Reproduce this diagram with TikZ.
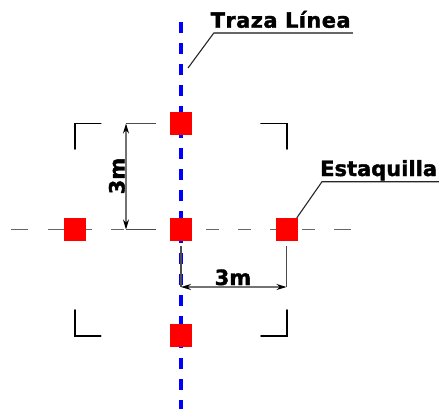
\documentclass[tikz,border=0pt]{standalone}
\usepackage{fontspec}
\setmainfont{DejaVu Sans}
\newfontfamily\heavyfont[FakeBold=1.6]{DejaVu Sans Bold}
\usetikzlibrary{arrows.meta}
\tikzset{
  stake/.style={fill=red,draw=none,minimum size=22.5pt,inner sep=0pt,outer sep=0pt},
  axisline/.style={draw=blue,line width=3.6pt,dash pattern=on 11pt off 10pt},
  centerline/.style={draw=black!60,line width=1.1pt},
  bracket/.style={draw=black,line width=1.8pt,line cap=round,line join=miter},
  extline/.style={draw=black!70,line width=1.1pt},
  dimline/.style={draw=black!55,line width=1.3pt,{Stealth[length=10pt,width=6pt,black]}-{Stealth[length=10pt,width=6pt,black]}},
  leader/.style={draw=black!85,line width=1.1pt},
  shelf/.style={draw=black!60,line width=1.7pt},
  title/.style={font=\heavyfont\fontsize{21}{21}\selectfont,inner sep=0pt,anchor=base west},
  dimtext/.style={font=\heavyfont\fontsize{21}{21}\selectfont,inner sep=0pt,anchor=base}
}
\begin{document}
\begin{tikzpicture}[x=1pt,y=-1pt]
\useasboundingbox (0,0) rectangle (439,409);
% centre line (horizontal)
\foreach \a/\b in {11/28,48/64,79/92,111/124,143/156,206/219,238/251,270/283,302/315,334/351}
  \draw[centerline] (\a,229.5) -- (\b,229.5);
% axis
\coordinate (axT) at (181,22);
\coordinate (axB) at (181,409);
\draw[axisline] (axT) -- (axB);
% corner brackets
\draw[bracket] (100.7,123.5) -- (75,123.5) -- (75,149);
\draw[bracket] (261,123.5) -- (286.7,123.5) -- (286.7,149);
\draw[bracket] (75,310) -- (75,335.7) -- (100.7,335.7);
\draw[bracket] (286.7,310) -- (286.7,335.7) -- (261,335.7);
% dimension 3m vertical
\coordinate (vT) at (126,123.5);
\coordinate (vB) at (126,229.5);
\coordinate (vTe) at (156,123.5);
\coordinate (vBe) at (156,229.5);
\draw[extline] (vT) -- (vTe);
\draw[extline] (vB) -- (vBe);
\draw[dimline] (vT) -- (vB);
\node[dimtext,rotate=90] (lblV) at (124.5,176) {3m};
% dimension 3m horizontal
\coordinate (hL) at (181,287);
\coordinate (hR) at (286.5,287);
\coordinate (hLe) at (181,246);
\coordinate (hRe) at (286.5,246);
\draw[extline] (hLe) -- (hL);
\draw[extline] (hRe) -- (hR);
\draw[dimline] (hL) -- (hR);
\node[dimtext] (lblH) at (233,285) {3m};
% stakes
\node[stake] (sT) at (181,123.5) {};
\node[stake] (sC) at (181,229.5) {};
\node[stake] (sL) at (75,229.5) {};
\node[stake] (sR) at (287,229.5) {};
\node[stake] (sB) at (181,335.5) {};
% labels and leaders
\node[title] (lblTraza) at (210.5,27.7) {T\kern0.4pt r\kern0.4pt a\kern0.4pt z\kern0.4pt a\kern7.5pt L\kern0.4pt í\kern0.4pt n\kern0.4pt e\kern0.4pt a};
\coordinate (tz1) at (188,68);
\coordinate (tz2) at (214,32.7);
\coordinate (tz3) at (353,32.7);
\draw[leader] (tz1) -- (tz2);
\draw[shelf] (tz2) -- (tz3);
\node[title] (lblEst) at (320,176) {Estaquilla};
\coordinate (es1) at (296.7,218);
\coordinate (es2) at (322,181.7);
\coordinate (es3) at (439,181.7);
\draw[leader] (es1) -- (es2) -- (es3);
\end{tikzpicture}
\end{document}
